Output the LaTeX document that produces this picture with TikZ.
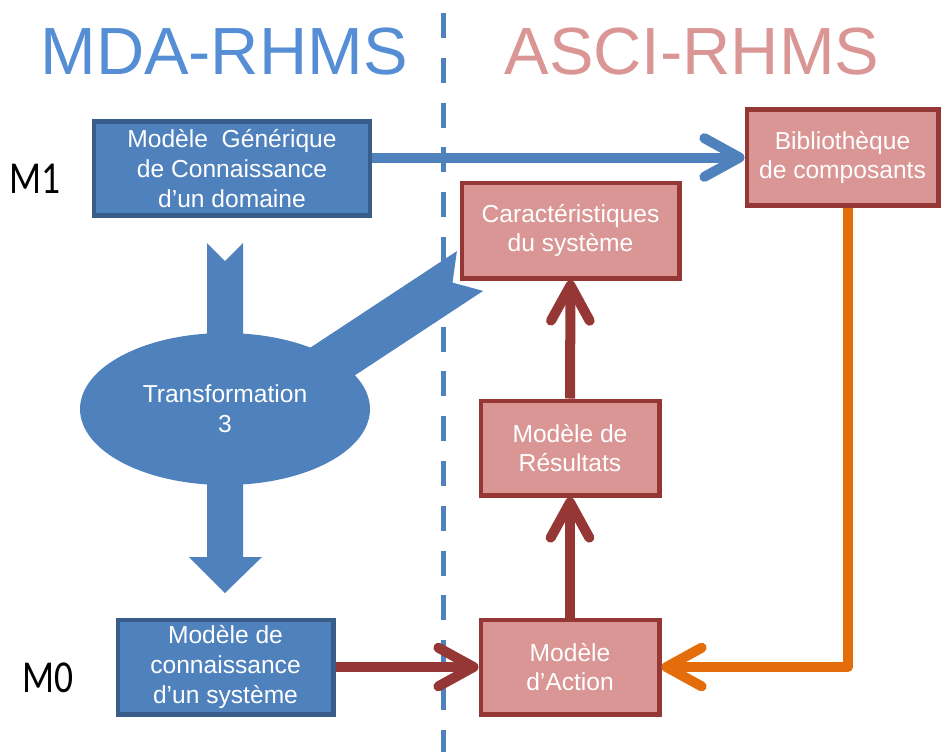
\documentclass[tikz,border=0pt]{standalone}
\usepackage{fontspec}
\setmainfont{Liberation Sans}
\newfontfamily\levelfont{Carlito}
\usepackage{graphicx}
\usepackage{xcolor}
\usepackage{tikz}
\usetikzlibrary{arrows.meta,positioning,shapes.geometric}
\definecolor{mdablue}{HTML}{4F81BD}
\definecolor{mdaedge}{HTML}{385D8A}
\definecolor{mdatitle}{HTML}{558ED5}
\definecolor{ascipink}{HTML}{D99694}
\definecolor{asciedge}{HTML}{953735}
\definecolor{liborange}{HTML}{E46C0A}

\begin{document}
\begin{tikzpicture}[
  x=0.02cm, y=-0.02cm,
  mdabox/.style={draw=mdaedge,line width=2.3pt,fill=mdablue,text=white,
                 align=center,inner sep=0pt,font=\fontsize{14}{17}\selectfont},
  ascibox/.style={draw=asciedge,line width=2.3pt,fill=ascipink,text=white,
                  align=center,inner sep=0pt,font=\fontsize{14}{17}\selectfont},
  title/.style={anchor=base,inner sep=0pt,font=\fontsize{38}{40}\selectfont},
  level/.style={inner sep=0pt,font=\levelfont\fontsize{26}{28}\selectfont},
  flow/.style={-{Straight Barb[length=20pt,width=22pt,round]},line width=5.7pt},
  block/.style={fill=mdablue}
]
\useasboundingbox (0,0) rectangle (942,752);
\draw[mdablue,line width=2.8pt,dash pattern=on 14.2pt off 11.3pt,dash phase=18.1pt]
  (443.5,0) -- (443.5,752);
\node[title,text=mdatitle] (mdatitle) at (224,74) {MDA-RHMS};
\node[title,text=ascipink] (ascititle) at (692,74) {ASCI-RHMS};
\node[level] (m1) at (35,179) {\scalebox{0.82}[1]{M1}};
\node[level] (m0) at (48,678) {\scalebox{0.82}[1]{M0}};
% block arrows, under the ellipse
\fill[block] (207,243) -- (225,261) -- (243,243) -- (243,557) -- (262,557)
  -- (225,593) -- (189,557) -- (207,557) -- cycle;
\fill[block] (456.9,251.1) -- (452.5,282.6) -- (483.1,290.9) -- (316.1,400.9)
  -- (328.9,420.2) -- (269.6,403) -- (277.1,341.8) -- (289.9,361.1) -- cycle;
\node[ellipse,fill=mdablue,minimum width=5.8cm,minimum height=3.04cm,inner sep=0pt,
      text=white,align=center,font=\fontsize{14}{17}\selectfont]
  (transfo) at (225,409) {Transformation\\3};
% boxes
\node[mdabox,minimum width=5.54cm,minimum height=1.88cm] (domain) at (232,168.5)
  {Modèle~~Générique\\de Connaissance\\d’un domaine};
\node[mdabox,minimum width=4.32cm,minimum height=1.9cm] (knowsys) at (225.5,667)
  {Modèle de\\connaissance\\d’un système};
\node[ascibox,minimum width=3.84cm,minimum height=1.92cm] (biblio) at (842.5,157.5)
  {Bibliothèque\\de composants};
\node[ascibox,minimum width=4.36cm,minimum height=1.92cm] (caract) at (570.5,230.5)
  {Caractéristiques\\du système};
\node[ascibox,minimum width=3.58cm,minimum height=1.9cm] (result) at (570,448)
  {Modèle de\\Résultats};
\node[ascibox,minimum width=3.58cm,minimum height=1.9cm] (action) at (570,667)
  {Modèle\\d’Action};
% connectors
\draw[flow,mdablue] (domain.east |- biblio.west) -- (biblio.west);
\draw[flow,liborange,line join=round] ([xshift=0.11cm]biblio.south) |- (action.east);
\draw[flow,asciedge] (action.north) -- (result.south);
\draw[flow,asciedge] (result.north) -- (caract.south);
\draw[flow,asciedge] (knowsys.east) -- (action.west);
\end{tikzpicture}
\end{document}
